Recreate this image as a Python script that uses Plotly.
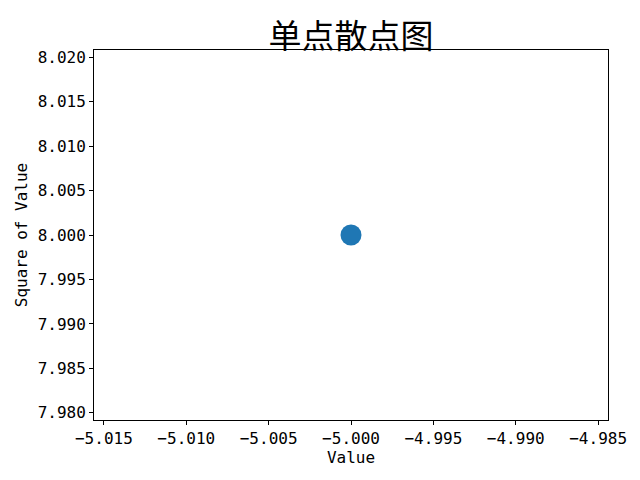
import plotly.graph_objects as go

x_values = [-5]
y_values = [8]
title_text = "单点散点图"
x_label = "Value"
y_label = "Square of Value"
x_ticks = [-5.015, -5.010, -5.005, -5.000, -4.995, -4.990, -4.985]
y_ticks = [7.980, 7.985, 7.990, 7.995, 8.000, 8.005, 8.010, 8.015, 8.020]
x_range = [-5.0156, -4.9844]
y_range = [7.9792, 8.0208]

tick_font = dict(family="DejaVu Sans Mono, Liberation Mono, monospace", size=16, color="black")

fig = go.Figure(go.Scatter(
    x=x_values, y=y_values, mode="markers",
    marker=dict(size=21, color="#1f77b4", line=dict(width=0)),
))

axis_common = dict(
    showgrid=False, zeroline=False, showline=True, linecolor="black", linewidth=1,
    mirror=True, ticks="outside", ticklen=4, tickwidth=1, tickcolor="black",
    tickfont=tick_font,
)

W, H = 632, 472  # page body has 8px default margin
fig.update_layout(
    width=W, height=H,
    paper_bgcolor="white", plot_bgcolor="white",
    margin=dict(l=86, r=32, t=42, b=60),
    showlegend=False,
    title=dict(text=title_text, x=(86 + W - 32) / 2 / W, xanchor="center", y=1 - 28 / H, yanchor="middle",
               font=dict(family="Noto Sans CJK SC", size=33, color="black")),
    xaxis=dict(range=x_range, tickvals=x_ticks, ticktext=[f"{v:.3f}".replace("-", "−") for v in x_ticks],
               title=dict(text=x_label, font=tick_font, standoff=4), **axis_common),
    yaxis=dict(range=y_range, tickvals=y_ticks, ticktext=[f"{v:.3f}" for v in y_ticks],
               title=dict(text=y_label, font=tick_font, standoff=6), **axis_common),
)

fig.write_html("out.html")
